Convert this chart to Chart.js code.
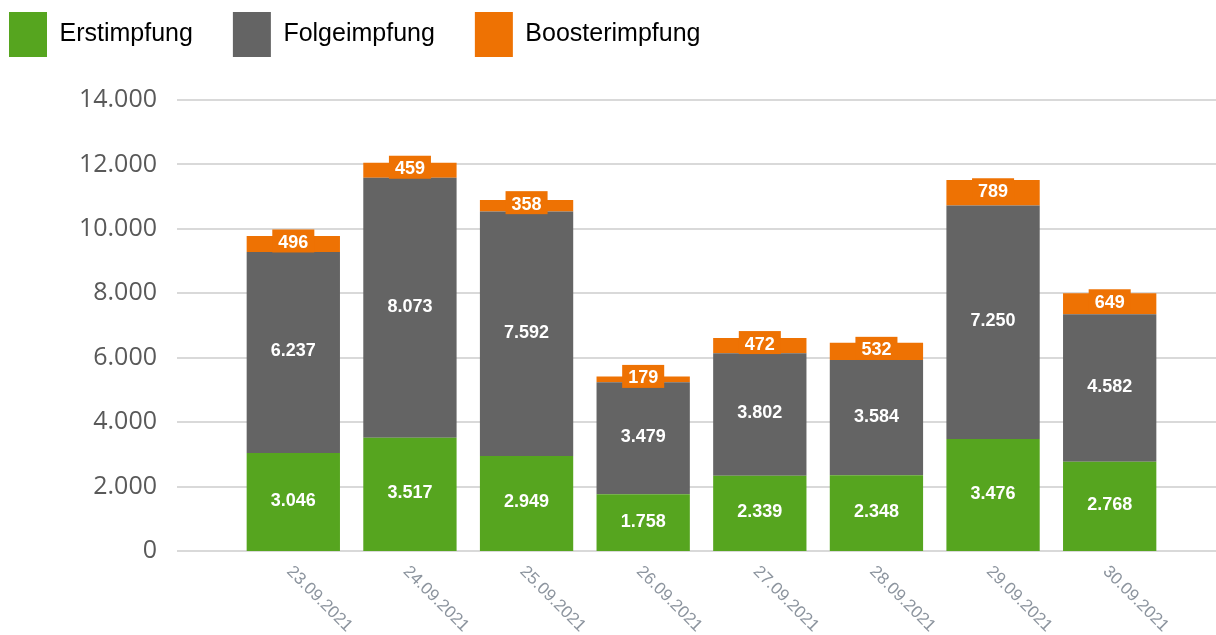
<!DOCTYPE html>
<html><head><meta charset="utf-8">
<script src="https://cdn.jsdelivr.net/npm/chart.js@4/dist/chart.umd.min.js"></script>
<style>html,body{margin:0;padding:0;background:#fff}#wrap{position:relative;width:1216px;height:635px}</style>
</head><body><div id="wrap"><canvas id="c" width="1216" height="635"></canvas></div>
<script>
const categories = ['23.09.2021','24.09.2021','25.09.2021','26.09.2021','27.09.2021','28.09.2021','29.09.2021','30.09.2021'];
const erstimpfung = [3046,3517,2949,1758,2339,2348,3476,2768];
const folgeimpfung = [6237,8073,7592,3479,3802,3584,7250,4582];
const boosterimpfung = [496,459,358,179,472,532,789,649];
const seriesNames = ['Erstimpfung','Folgeimpfung','Boosterimpfung'];
const yMax = 14000;
const yStep = 2000;

const COLORS = ['#56a51f','#646464','#ee7203'];
const fmt = v => String(v).replace(/\B(?=(\d{3})+(?!\d))/g, '.');

const legendHeight = {
  id: 'legendHeight',
  beforeInit(chart) {
    const lg = chart.legend;
    if (!lg) return;
    const orig = lg.fit;
    lg.fit = function () { orig.call(this); this.height = 128; };
  }
};

const gridPlugin = {
  id: 'wideGrid',
  beforeDatasetsDraw(chart) {
    const y = chart.scales.y, ctx = chart.ctx;
    ctx.save();
    ctx.strokeStyle = '#d9d9d9';
    ctx.lineWidth = 2;
    y.ticks.forEach(t => {
      const py = Math.round(y.getPixelForValue(t.value));
      ctx.beginPath();
      ctx.moveTo(177, py);
      ctx.lineTo(1216, py);
      ctx.stroke();
    });
    ctx.restore();
  }
};

const labelPlugin = {
  id: 'valueLabels',
  afterDatasetsDraw(chart) {
    const ctx = chart.ctx;
    ctx.save();
    ctx.font = 'bold 18px "Liberation Sans", Arial, sans-serif';
    ctx.textAlign = 'center';
    ctx.textBaseline = 'middle';
    chart.data.datasets.forEach((ds, di) => {
      const meta = chart.getDatasetMeta(di);
      meta.data.forEach((bar, i) => {
        const cx = bar.x;
        const cy = (bar.y + bar.base) / 2;
        const txt = fmt(ds.data[i]);
        if (di === 2) {
          const w = ctx.measureText(txt).width + 12;
          ctx.fillStyle = COLORS[2];
          ctx.fillRect(cx - w / 2, cy - 3 - 11.5, w, 23);
        }
        ctx.fillStyle = '#ffffff';
        ctx.fillText(txt, cx, cy - 1);
      });
    });
    // rotated category labels
    const xs = chart.scales.x;
    const baseY = chart.scales.y.getPixelForValue(0);
    ctx.font = '17px "Liberation Sans", Arial, sans-serif';
    ctx.fillStyle = '#8c949e';
    ctx.textAlign = 'left';
    ctx.textBaseline = 'middle';
    chart.data.labels.forEach((lab, i) => {
      const px = xs.getPixelForValue(i);
      ctx.save();
      ctx.translate(px - 4, baseY + 18);
      ctx.rotate(Math.PI / 4);
      ctx.fillText(lab, 0, 0);
      ctx.restore();
    });
    ctx.restore();
  }
};

new Chart(document.getElementById('c'), {
  type: 'bar',
  data: {
    labels: categories,
    datasets: [
      { label: seriesNames[0], data: erstimpfung, backgroundColor: COLORS[0] },
      { label: seriesNames[1], data: folgeimpfung, backgroundColor: COLORS[1] },
      { label: seriesNames[2], data: boosterimpfung, backgroundColor: COLORS[2] }
    ]
  },
  options: {
    responsive: false,
    animation: false,
    devicePixelRatio: 1,
    layout: { padding: { left: -31, top: -28, right: 48, bottom: 0 } },
    datasets: { bar: { barPercentage: 0.8, categoryPercentage: 1.0, borderWidth: 0 } },
    plugins: {
      legend: {
        position: 'top',
        align: 'start',
        labels: {
          boxWidth: 38,
          boxHeight: 45,
          padding: 40,
          color: '#000000',
          font: { family: '"Liberation Sans", Arial, sans-serif', size: 25 }
        }
      },
      tooltip: { enabled: false }
    },
    scales: {
      x: {
        stacked: true,
        grid: { display: false },
        border: { display: false },
        ticks: { display: false },
        afterFit(s) { s.height = 84; }
      },
      y: {
        stacked: true,
        min: 0,
        max: yMax,
        grid: { display: false, drawTicks: true, tickLength: 70 },
        border: { display: false },
        ticks: {
          stepSize: yStep,
          padding: 8,
          color: '#595959',
          font: { family: '"Open Sans", sans-serif', size: 25 },
          callback: v => fmt(v)
        },
        afterFit(s) { s.width = 266; }
      }
    }
  },
  plugins: [legendHeight, gridPlugin, labelPlugin]
});
</script>
</body></html>
